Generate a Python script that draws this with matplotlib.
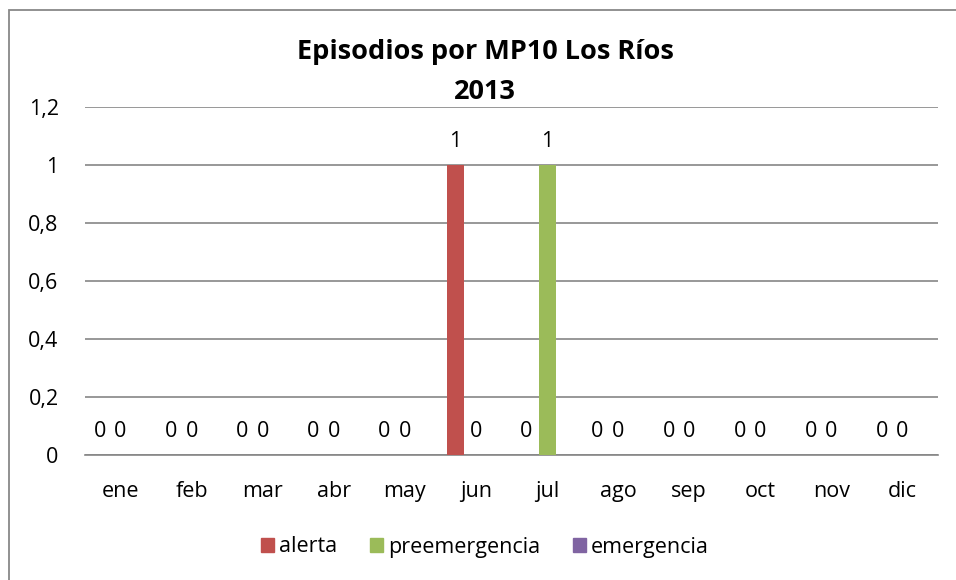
import matplotlib
matplotlib.use("Agg")
import matplotlib.pyplot as plt
from matplotlib.patches import Rectangle
from matplotlib.ticker import FuncFormatter
import numpy as np

months = ["ene", "feb", "mar", "abr", "may", "jun", "jul", "ago", "sep", "oct", "nov", "dic"]
alerta = [0, 0, 0, 0, 0, 1, 0, 0, 0, 0, 0, 0]
preemergencia = [0, 0, 0, 0, 0, 0, 1, 0, 0, 0, 0, 0]
emergencia = [0, 0, 0, 0, 0, 0, 0, 0, 0, 0, 0, 0]
series_names = ["alerta", "preemergencia", "emergencia"]
colors = ["#C0504D", "#9BBB59", "#8064A2"]
title = "Episodios por MP10 Los Ríos\n2013"

plt.rcParams['font.family'] = ['Open Sans', 'DejaVu Sans']
FS = 15.5

fig = plt.figure(figsize=(9.56, 5.8), dpi=100)
ax = fig.add_axes([85/956, 1-455/580, (938-85)/956, (455-107)/580])

x = np.arange(len(months))
width = 0.24
offsets = [-0.29, 0.0, 0.29]
data = [alerta, preemergencia, emergencia]
for i, (vals, name, c) in enumerate(zip(data, series_names, colors)):
    ax.bar(x + offsets[i], vals, width=width, color=c, label=name, zorder=3)
    if i < 2:
        for xi, v in zip(x + offsets[i], vals):
            ax.text(xi, v + 0.08, f"{v}", ha="center", va="center", fontsize=FS, color="black")

ax.set_xlim(-0.5, len(months) - 0.5)
ax.set_ylim(0, 1.2)
ax.set_yticks(np.arange(0, 1.21, 0.2))
ax.yaxis.set_major_formatter(FuncFormatter(lambda v, p: ("%g" % round(v, 1)).replace(".", ",")))
ax.set_xticks(x)
ax.set_xticklabels(months)
ax.tick_params(axis="both", length=0, labelsize=FS, colors="black")
ax.tick_params(axis="x", pad=19)
ax.tick_params(axis="y", pad=19)
ax.grid(axis="y", color="#868686", linewidth=1.2, zorder=0)
for s in ["left", "right", "top"]:
    ax.spines[s].set_visible(False)
ax.spines["bottom"].set_color("#868686")
ax.spines["bottom"].set_linewidth(1.2)

fig.text(485/956, 1-72/580, title, ha="center", va="center", fontsize=19.5, fontweight="bold", linespacing=1.7)

handles = [Rectangle((0, 0), 1, 1, color=c) for c in colors]
fig.legend(handles, series_names, loc="center", bbox_to_anchor=(485/956, 1-547/580), ncol=3,
           frameon=False, fontsize=FS, handlelength=0.6, handleheight=0.6, handletextpad=0.25,
           columnspacing=1.5)

fig.patches.append(Rectangle((9/956, -0.1), 1.2, 1-10/580+0.1, transform=fig.transFigure,
                             fill=False, edgecolor="#888888", linewidth=1.3, zorder=0))

fig.savefig("out.png", dpi=100)
